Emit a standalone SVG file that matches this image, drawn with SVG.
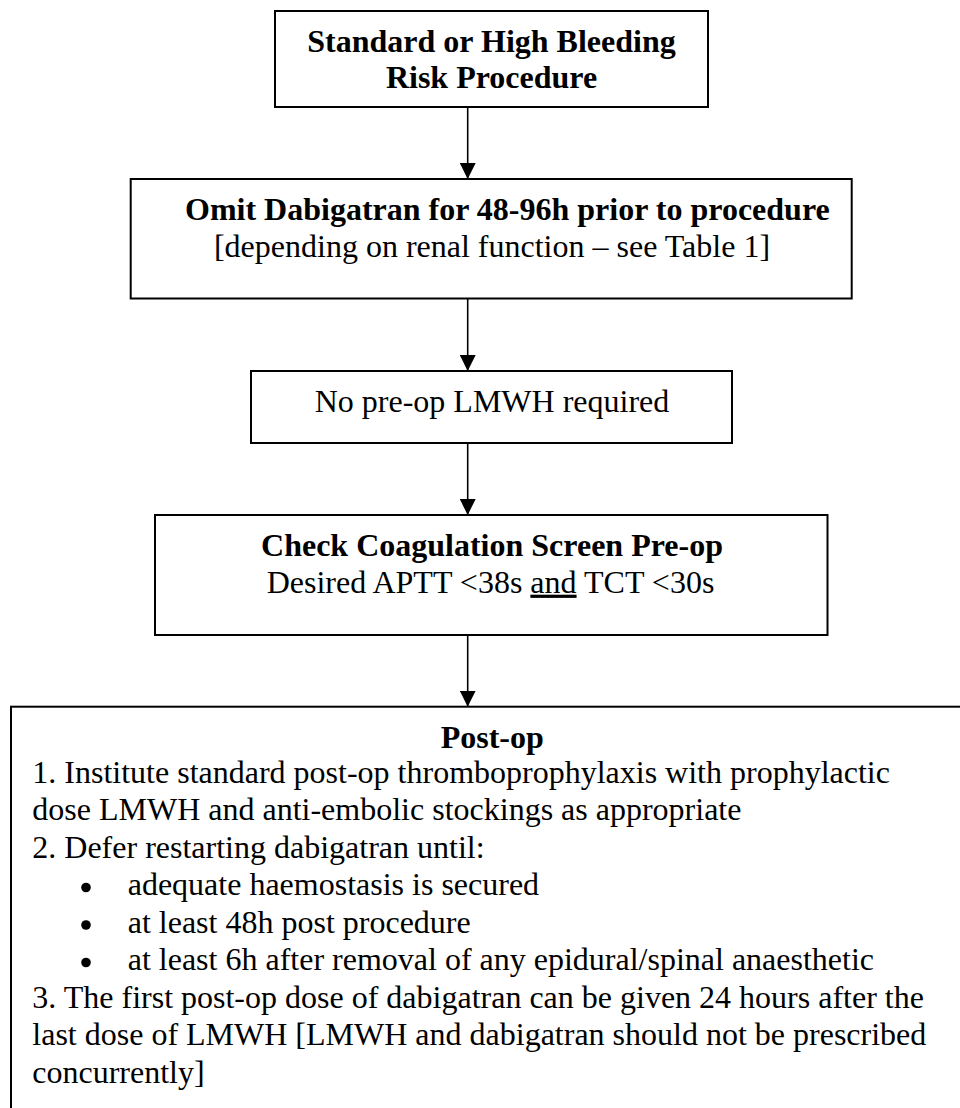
<svg xmlns="http://www.w3.org/2000/svg" width="960" height="1108" viewBox="0 0 960 1108">
  <style>
    .box { fill: #ffffff; stroke: #000000; stroke-width: 2; }
    .t { font-family: "Liberation Serif", "Times New Roman", serif; font-size: 32px; fill: #000000; }
    .b { font-weight: bold; }
    .c { text-anchor: middle; }
    .conn { stroke: #000000; stroke-width: 1.6; fill: none; }
  </style>
  <defs>
    <marker id="arrow" viewBox="0 0 16 16" refX="16" refY="8" markerWidth="16" markerHeight="16" markerUnits="userSpaceOnUse" orient="auto">
      <path d="M0,0 L16,8 L0,16 Z" fill="#000000"/>
    </marker>
  </defs>
  <rect width="960" height="1108" fill="#ffffff"/>

  <g id="connectors">
    <line class="conn" x1="467.7" y1="107" x2="467.7" y2="179" marker-end="url(#arrow)"/>
    <line class="conn" x1="467.7" y1="298.5" x2="467.7" y2="371" marker-end="url(#arrow)"/>
    <line class="conn" x1="467.7" y1="443" x2="467.7" y2="515" marker-end="url(#arrow)"/>
    <line class="conn" x1="467.7" y1="635" x2="467.7" y2="706.7" marker-end="url(#arrow)"/>
  </g>

  <g id="node-procedure">
    <rect class="box" x="275" y="11" width="433" height="96"/>
    <text class="t b c" x="491.5" y="51.7">Standard or High Bleeding</text>
    <text class="t b c" x="491.5" y="88.3">Risk Procedure</text>
  </g>

  <g id="node-omit">
    <rect class="box" x="130.7" y="179" width="721" height="119.5"/>
    <text class="t b" x="185" y="220">Omit Dabigatran for 48-96h prior to procedure</text>
    <text class="t c" x="492" y="256.7">[depending on renal function – see Table 1]</text>
  </g>

  <g id="node-lmwh">
    <rect class="box" x="251" y="371" width="481" height="72"/>
    <text class="t c" x="492" y="411.7">No pre-op LMWH required</text>
  </g>

  <g id="node-coag">
    <rect class="box" x="155" y="515" width="672.5" height="120"/>
    <text class="t b c" x="492" y="556">Check Coagulation Screen Pre-op</text>
    <text class="t" x="266.7" y="592.7">Desired APTT &lt;38s <tspan text-decoration="underline">and</tspan> TCT &lt;30s</text>
  </g>

  <g id="node-postop">
    <rect class="box" x="11" y="706.7" width="980" height="430"/>
    <text class="t b" x="440.7" y="748.3">Post-op</text>
    <text class="t" x="32.3" y="782.7">1. Institute standard post-op thromboprophylaxis with prophylactic</text>
    <text class="t" x="32.3" y="820.2">dose LMWH and anti-embolic stockings as appropriate</text>
    <text class="t" x="32.3" y="857.7">2. Defer restarting dabigatran until:</text>
    <circle cx="86" cy="887.5" r="4.8" fill="#000000"/>
    <text class="t" x="127.7" y="895.2">adequate haemostasis is secured</text>
    <circle cx="86" cy="925" r="4.8" fill="#000000"/>
    <text class="t" x="127.7" y="932.7">at least 48h post procedure</text>
    <circle cx="86" cy="962.5" r="4.8" fill="#000000"/>
    <text class="t" x="127.7" y="970.2">at least 6h after removal of any epidural/spinal anaesthetic</text>
    <text class="t" x="32.3" y="1007.7">3. The first post-op dose of dabigatran can be given 24 hours after the</text>
    <text class="t" x="32.3" y="1045.2">last dose of LMWH [LMWH and dabigatran should not be prescribed</text>
    <text class="t" x="32.3" y="1082.7">concurrently]</text>
  </g>
</svg>
